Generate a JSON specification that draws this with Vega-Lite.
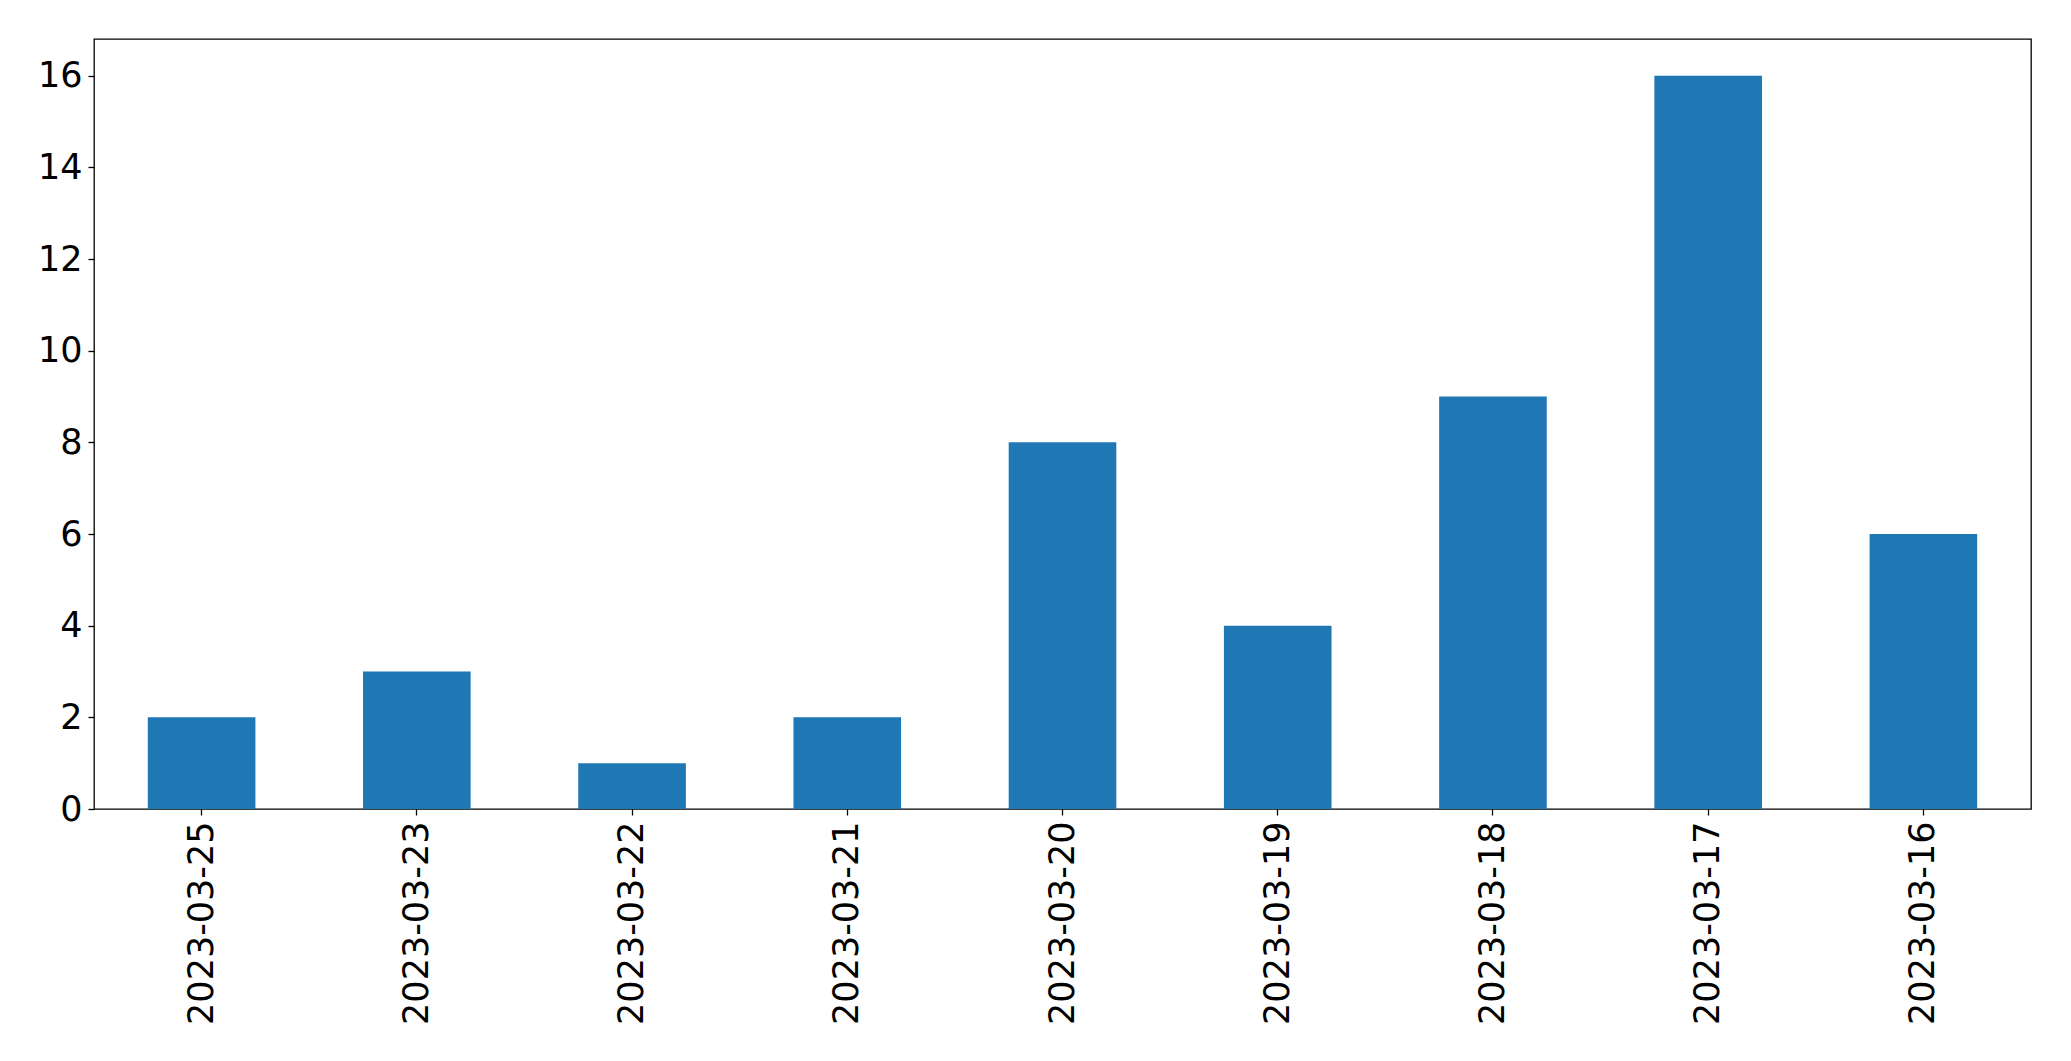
{
  "$schema": "https://vega.github.io/schema/vega-lite/v6.json",
  "autosize": {"type": "none"},
  "width": 1937,
  "height": 770,
  "padding": {"left": 94, "top": 39, "right": 40, "bottom": 252},
  "background": "white",
  "config": {
    "view": {"stroke": "black", "strokeWidth": 1.3},
    "axis": {
      "labelFont": "DejaVu Sans",
      "labelFontSize": 35,
      "labelColor": "black",
      "labelLimit": 0,
      "tickColor": "black",
      "tickSize": 6,
      "tickWidth": 1.3,
      "domain": false,
      "grid": false,
      "labelPadding": 6
    }
  },
  "data": {
    "values": [
      {"date": "2023-03-25", "count": 2},
      {"date": "2023-03-23", "count": 3},
      {"date": "2023-03-22", "count": 1},
      {"date": "2023-03-21", "count": 2},
      {"date": "2023-03-20", "count": 8},
      {"date": "2023-03-19", "count": 4},
      {"date": "2023-03-18", "count": 9},
      {"date": "2023-03-17", "count": 16},
      {"date": "2023-03-16", "count": 6}
    ]
  },
  "mark": {"type": "bar", "color": "#1f77b4"},
  "encoding": {
    "x": {
      "field": "date",
      "type": "nominal",
      "sort": null,
      "title": null,
      "scale": {"paddingInner": 0.5, "paddingOuter": 0.25},
      "axis": {"labelAngle": 270, "labelAlign": "right", "labelBaseline": "middle"}
    },
    "y": {
      "field": "count",
      "type": "quantitative",
      "title": null,
      "scale": {"domain": [0, 16.8], "nice": false, "zero": true},
      "axis": {"values": [0, 2, 4, 6, 8, 10, 12, 14, 16]}
    }
  }
}
